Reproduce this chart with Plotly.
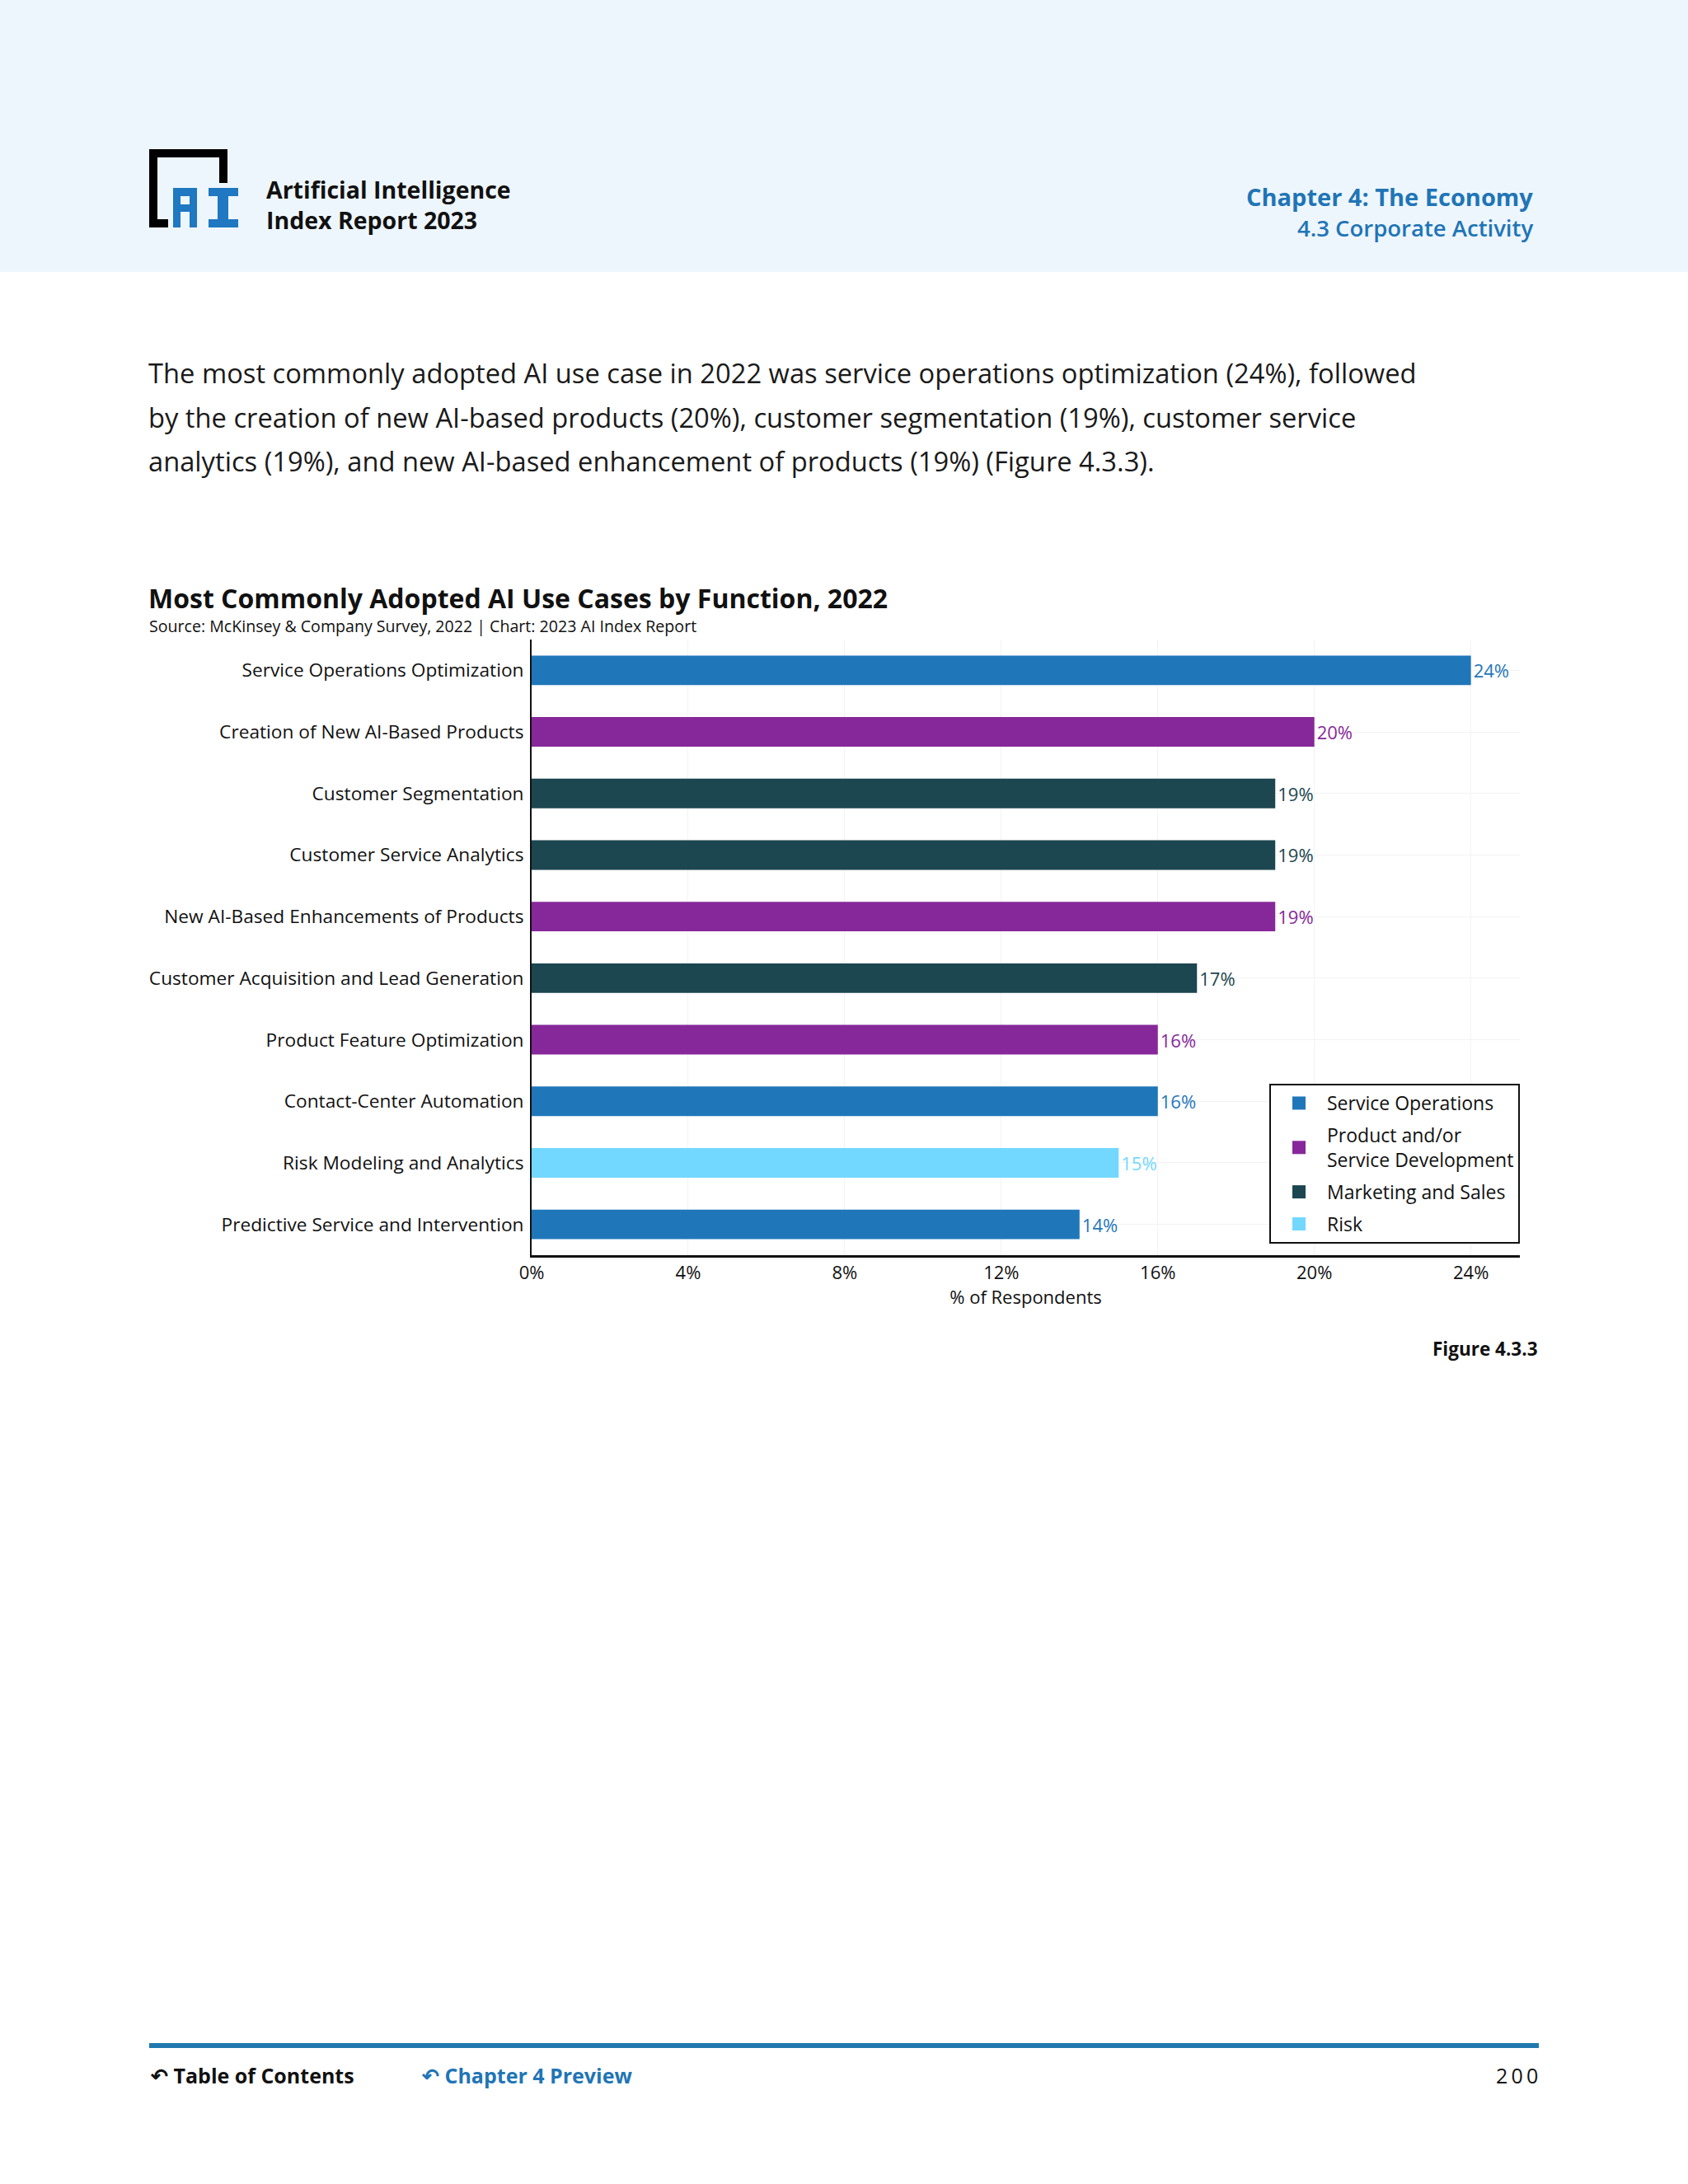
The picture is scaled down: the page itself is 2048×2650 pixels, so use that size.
import plotly.graph_objects as go

# ---------------- data ----------------
categories = [
    "Service Operations Optimization",
    "Creation of New AI-Based Products",
    "Customer Segmentation",
    "Customer Service Analytics",
    "New AI-Based Enhancements of Products",
    "Customer Acquisition and Lead Generation",
    "Product Feature Optimization",
    "Contact-Center Automation",
    "Risk Modeling and Analytics",
    "Predictive Service and Intervention",
]
values = [24, 20, 19, 19, 19, 17, 16, 16, 15, 14]
functions = [
    "Service Operations",
    "Product and/or Service Development",
    "Marketing and Sales",
    "Marketing and Sales",
    "Product and/or Service Development",
    "Marketing and Sales",
    "Product and/or Service Development",
    "Service Operations",
    "Risk",
    "Service Operations",
]

groups = ["Service Operations", "Product and/or Service Development", "Marketing and Sales", "Risk"]
group_labels = ["Service Operations", "Product and/or<br>Service Development", "Marketing and Sales", "Risk"]
group_colors = ["#1F77BA", "#87289A", "#1C4650", "#72D8FF"]
x_ticks = [0, 4, 8, 12, 16, 20, 24]
x_tick_labels = ["0%", "4%", "8%", "12%", "16%", "20%", "24%"]

W, H = 2048, 2650
FONT = "Open Sans"


def px(x):
    return x / W


def py(y):
    return 1 - y / H


fig = go.Figure()
for g, lab, col in zip(groups, group_labels, group_colors):
    ys = [c for c, f in zip(categories, functions) if f == g]
    xs = [v for v, f in zip(values, functions) if f == g]
    fig.add_trace(go.Bar(
        y=ys, x=xs, orientation="h", name=lab, legendgroup=g, showlegend=False,
        marker=dict(color=col, line=dict(width=0)),
        text=[f"{v}%" for v in xs], textposition="outside",
        textfont=dict(color=col, size=22, family=FONT),
        cliponaxis=False,
    ))
# legend entries (square swatches)
for g, lab, col in zip(groups, group_labels, group_colors):
    fig.add_trace(go.Scatter(
        x=[None], y=[None], mode="markers", name=lab, legendgroup=g,
        marker=dict(symbol="square", size=19, color=col),
    ))

shapes = []
# header band
shapes.append(dict(type="rect", xref="paper", yref="paper", x0=0, x1=1, y0=py(330), y1=1,
                   fillcolor="#EEF6FD", line=dict(width=0), layer="below"))


def rect(x0, y0, x1, y1, color):
    shapes.append(dict(type="rect", xref="paper", yref="paper", x0=px(x0), x1=px(x1),
                       y0=py(y1), y1=py(y0), fillcolor=color, line=dict(width=0)))


# logo bracket
K = "#000000"
rect(181, 181, 276, 191, K)
rect(266, 181, 276, 222, K)
rect(181, 181, 191, 276, K)
rect(181, 266, 204, 276, K)
# logo "AI"
B = "#1F78C1"
rect(210, 228, 239, 238, B)
rect(210, 228, 219, 276, B)
rect(230, 228, 239, 276, B)
rect(210, 248, 239, 257, B)
rect(253, 228, 289, 238, B)
rect(264, 228, 277, 276, B)
rect(253, 266, 289, 276, B)

# footer rule
shapes.append(dict(type="line", xref="paper", yref="paper", x0=px(181), x1=px(1867),
                   y0=py(2482), y1=py(2482), line=dict(color="#2178AE", width=6)))

ann = []


def text(x, y, s, size, color="#111111", anchor="left", bold=False, family=FONT, weight=None):
    w = weight if weight is not None else ("bold" if bold else "normal")
    ann.append(dict(x=px(x), y=py(y), xref="paper", yref="paper", text=s, showarrow=False,
                    xanchor=anchor, yanchor="middle", align=anchor, borderpad=0,
                    font=dict(size=size, color=color, family=family, weight=w)))


text(322, 248, "Artificial Intelligence<br>Index Report 2023", 28.5, "#111111", bold=True)
text(1861, 238, "Chapter 4: The Economy", 29, "#1F75B6", "right", bold=True)
text(1861, 277, "4.3 Corporate Activity", 27.5, "#1F75B6", "right", weight=600)

body = [
    "The most commonly adopted AI use case in 2022 was service operations optimization (24%), followed",
    "by the creation of new AI-based products (20%), customer segmentation (19%), customer service",
    "analytics (19%), and new AI-based enhancement of products (19%) (Figure 4.3.3).",
]
for i, line in enumerate(body):
    text(179, 453 + i * 53, line, 32.7, "#1A1A1A")

text(179, 725, "Most Commonly Adopted AI Use Cases by Function, 2022", 32, "#111111", bold=True)
text(180, 759, "Source: McKinsey &amp; Company Survey, 2022 | Chart: 2023 AI Index Report", 19.6, "#111111")
text(1867, 1636, "Figure 4.3.3", 22.5, "#111111", "right", bold=True)

text(181, 2518, "↶ Table of Contents", 25, "#111111", bold=True)
text(510, 2518, "↶ Chapter 4 Preview", 25, "#1F75B6", bold=True)
text(1867, 2518, "2\u20090\u20090", 25, "#111111", "right")

fig.update_layout(
    width=W, height=H, autosize=False,
    margin=dict(l=0, r=0, t=0, b=0, pad=0, autoexpand=False),
    paper_bgcolor="white", plot_bgcolor="white",
    barmode="relative", bargap=0.52,
    font=dict(family=FONT, size=22, color="#111111"),
    shapes=shapes, annotations=ann,
    showlegend=True,
    legend=dict(x=px(1540), y=py(1315), xanchor="left", yanchor="top",
                bgcolor="white", bordercolor="#111111", borderwidth=2,
                font=dict(size=23, family=FONT, color="#111111"),
                traceorder="grouped", itemwidth=58, tracegroupgap=6),
    xaxis=dict(domain=[px(645), px(1844)], range=[0, 25.25],
               tickvals=x_ticks, ticktext=x_tick_labels,
               showgrid=True, gridcolor="#F3F3F3", gridwidth=1,
               showline=True, linecolor="#111111", linewidth=3,
               zeroline=False, ticks="", tickfont=dict(size=22),
               automargin=False,
               title=dict(text="% of Respondents", font=dict(size=22), standoff=10)),
    yaxis=dict(domain=[py(1523), py(776)], categoryorder="array",
               categoryarray=categories, autorange="reversed",
               showgrid=True, gridcolor="#F3F3F3", gridwidth=1,
               showline=True, linecolor="#111111", linewidth=2,
               automargin=False,
               ticks="", tickfont=dict(size=22.7), ticklabelstandoff=3),
)

fig.write_html("out.html", config={"displayModeBar": False},
               post_script="document.body.style.margin='0';document.body.style.padding='0';")
